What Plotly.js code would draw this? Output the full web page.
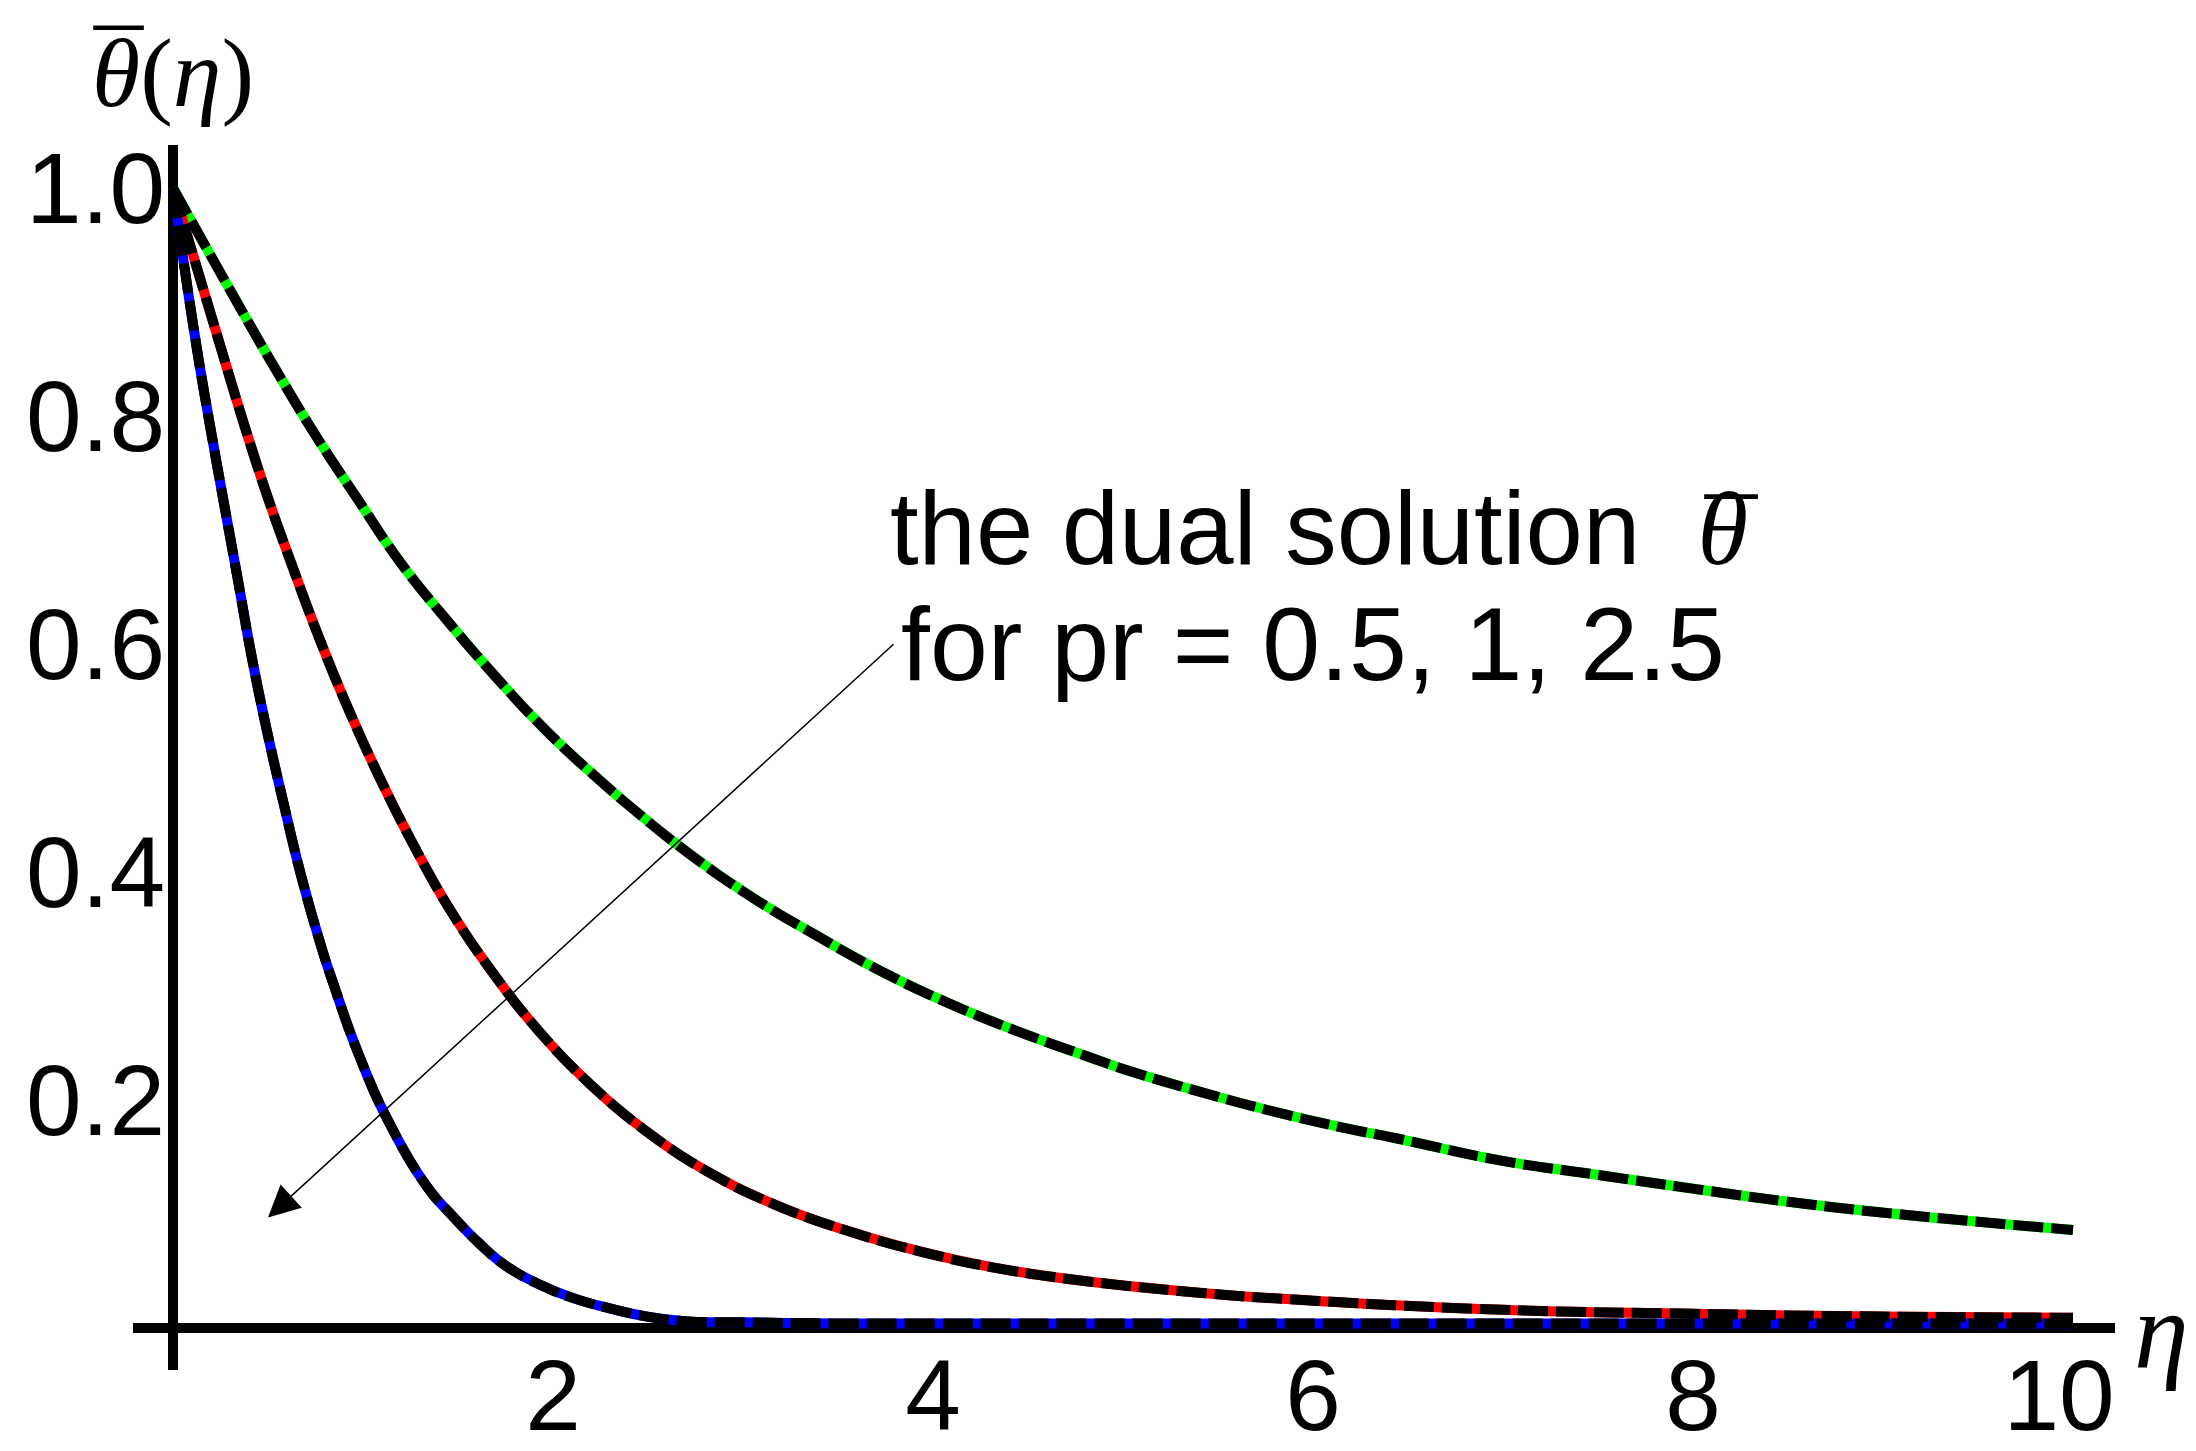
<!DOCTYPE html>
<html>
<head>
<meta charset="utf-8">
<script src="https://cdn.plot.ly/plotly-3.0.1.min.js"></script>
<style>html,body{margin:0;padding:0;background:#fff;} #chart{width:2196px;height:1451px;}</style>
</head>
<body>
<div id="chart"></div>
<script>
// Pr = 0.5 (green)
const pr05Eta = [0, 0.353, 0.547, 0.758, 0.968, 1.195, 1.441, 1.700, 1.970, 2.256, 2.409, 2.717, 3.046, 3.379, 3.726, 4.081, 4.449, 4.817, 5.005, 5.388, 5.765, 6.151, 6.449, 6.984, 7.511, 8.095, 8.489, 9.072, 10];
const pr05Theta = [1, 0.895, 0.839, 0.781, 0.728, 0.672, 0.621, 0.571, 0.523, 0.479, 0.457, 0.416, 0.378, 0.345, 0.313, 0.285, 0.260, 0.238, 0.227, 0.208, 0.191, 0.176, 0.166, 0.147, 0.134, 0.120, 0.111, 0.100, 0.086];
// Pr = 1 (red)
const pr1Eta = [0, 0.205, 0.379, 0.5, 0.633, 0.770, 0.923, 1.084, 1.262, 1.458, 1.677, 1.923, 2.195, 2.496, 2.826, 3.186, 3.554, 3.935, 4.321, 4.712, 5.4, 6, 7, 8, 9, 10];
const pr1Theta = [1, 0.886, 0.790, 0.728, 0.666, 0.605, 0.543, 0.484, 0.425, 0.367, 0.313, 0.261, 0.214, 0.172, 0.136, 0.107, 0.085, 0.067, 0.053, 0.043, 0.031, 0.024, 0.016, 0.0125, 0.010, 0.009];
// Pr = 2.5 (blue)
const pr25Eta = [0, 0.105, 0.168, 0.344, 0.414, 0.493, 0.581, 0.674, 0.783, 0.844, 0.975, 1.138, 1.341, 1.467, 1.607, 1.756, 1.932, 2.111, 2.304, 2.496, 2.695, 3, 3.5, 4, 5, 6, 7, 8, 9, 10];
const pr25Theta = [1, 0.881, 0.817, 0.654, 0.589, 0.525, 0.461, 0.397, 0.333, 0.302, 0.241, 0.180, 0.123, 0.099, 0.075, 0.054, 0.038, 0.026, 0.017, 0.010, 0.006, 0.005, 0.004, 0.004, 0.004, 0.004, 0.004, 0.004, 0.004, 0.004];

const prNames = ['Pr = 0.5', 'Pr = 1', 'Pr = 2.5'];
const seriesColors = ['#00ff00', '#ff0000', '#0000ff'];

const xTickVals = [2, 4, 6, 8, 10];
const xTickText = ['2', '4', '6', '8', '10\u00a0'];
const yTickVals = [0.2, 0.4, 0.6, 0.8, 1.0];
const yTickText = ['0.2', '0.4', '0.6', '0.8', '1.0'];

const annLine1 = 'the dual solution  <span style="font-family:\'Liberation Serif\'"><i>θ</i></span>';
const annLine2 = 'for pr = 0.5, 1, 2.5';
const yLabel = '<i>θ</i>(<i>η</i>)';
const xLabel = '<i>η</i>';
const barMark = '\u00af';

const SANS = 'Liberation Sans, Arial, sans-serif';
const SERIF = 'Liberation Serif, Times New Roman, serif';

const xs = [pr05Eta, pr1Eta, pr25Eta];
const ys = [pr05Theta, pr1Theta, pr25Theta];

const traces = [];
for (let i = 0; i < 3; i++) {
  traces.push({
    x: xs[i], y: ys[i], type: 'scatter', mode: 'lines', name: prNames[i],
    line: {color: seriesColors[i], width: 10, shape: 'spline', smoothing: 1.3},
    hoverinfo: 'skip'
  });
}
for (let i = 0; i < 3; i++) {
  traces.push({
    x: xs[i], y: ys[i], type: 'scatter', mode: 'lines', name: prNames[i] + ' dashed',
    line: {color: '#000000', width: 10, shape: 'spline', smoothing: 1.3, dash: '30px,8px'},
    hoverinfo: 'skip'
  });
}

const W = 2196, H = 1451;
const mL = 133, mR = 81, mT = 145, mB = 81;
const pw = W - mL - mR, ph = H - mT - mB;
function px(X) { return (X - mL) / pw; }
function py(Y) { return (H - mB - Y) / ph; }

const layout = {
  width: W, height: H,
  margin: {l: mL, r: mR, t: mT, b: mB, pad: 0},
  paper_bgcolor: '#ffffff', plot_bgcolor: '#ffffff',
  showlegend: false,
  xaxis: {
    range: [-0.2105, 10.2211], showgrid: false, zeroline: true, zerolinecolor: '#000000', zerolinewidth: 10,
    showline: false, ticks: '', tickmode: 'array', tickvals: xTickVals, ticktext: xTickText,
    tickfont: {family: SANS, size: 100, color: '#000000'}, ticklabelstandoff: -41
  },
  yaxis: {
    range: [-0.03684, 1.03772], showgrid: false, zeroline: true, zerolinecolor: '#000000', zerolinewidth: 10,
    showline: false, ticks: '', tickmode: 'array', tickvals: yTickVals, ticktext: yTickText,
    tickfont: {family: SANS, size: 100, color: '#000000'}, ticklabelstandoff: -33
  },
  annotations: [
    {xref: 'paper', yref: 'paper', x: px(90), y: py(73), xanchor: 'left', yanchor: 'middle', showarrow: false,
     text: yLabel, font: {family: SERIF, size: 98, color: '#000000'}},
    {xref: 'paper', yref: 'paper', x: px(118), y: py(66), xanchor: 'center', yanchor: 'middle', showarrow: false,
     text: barMark, font: {family: SERIF, size: 98, color: '#000000'}},
    {xref: 'paper', yref: 'paper', x: px(2161), y: py(1331), xanchor: 'center', yanchor: 'middle', showarrow: false,
     text: xLabel, font: {family: SERIF, size: 110, color: '#000000'}},
    {xref: 'paper', yref: 'paper', x: px(888), y: py(528), xanchor: 'left', yanchor: 'middle', showarrow: false,
     text: annLine1, font: {family: SANS, size: 103, color: '#000000'}},
    {xref: 'paper', yref: 'paper', x: px(1731), y: py(537), xanchor: 'center', yanchor: 'middle', showarrow: false,
     text: barMark, font: {family: SERIF, size: 104, color: '#000000'}},
    {xref: 'paper', yref: 'paper', x: px(899), y: py(644), xanchor: 'left', yanchor: 'middle', showarrow: false,
     text: annLine2, font: {family: SANS, size: 104, color: '#000000'}},
    {xref: 'x', yref: 'y', axref: 'x', ayref: 'y', x: 0.5, y: 0.097, ax: 3.8, ay: 0.601,
     text: '', showarrow: true, arrowhead: 2, arrowsize: 4.2, arrowwidth: 1.5, arrowcolor: '#000000', standoff: 0}
  ]
};

Plotly.newPlot('chart', traces, layout, {staticPlot: true, displayModeBar: false});
</script>
</body>
</html>
